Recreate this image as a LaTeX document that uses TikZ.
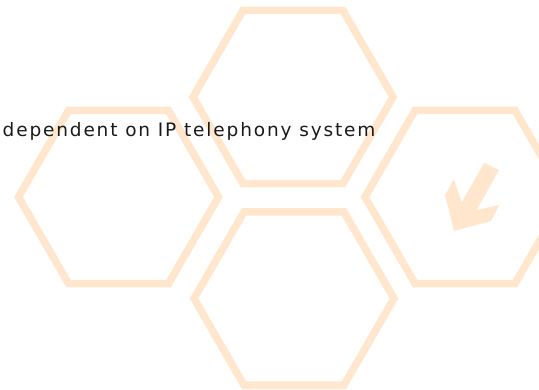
\documentclass[tikz,border=0pt]{standalone}
\usepackage{fontspec}
\setmainfont{DejaVu Sans}
\definecolor{hexcol}{RGB}{255,230,205}
\definecolor{txtcol}{RGB}{26,26,26}
\tikzset{
  hexa/.style={draw=hexcol, line width=7.5pt, miter limit=10},
  arrowshape/.style={fill=hexcol, draw=none},
  label/.style={inner sep=0pt, anchor=base west, text=txtcol,
    font=\fontsize{18.5}{21}\selectfont\addfontfeatures{LetterSpace=10}}
}
\begin{document}
\begin{tikzpicture}[x=1pt,y=-1pt]
\useasboundingbox (0,0) rectangle (539,390);
% hexagon centres
\coordinate (htop) at (293,97);
\coordinate (hleft) at (118.5,197);
\coordinate (hright) at (465,197);
\coordinate (hbot) at (294,298.5);
\foreach \c in {htop,hleft,hright,hbot}{
  \draw[hexa] (\c) +(0:100) -- +(60:100) -- +(120:100) -- +(180:100) -- +(240:100) -- +(300:100) -- cycle;
}
% arrow in right hexagon
\fill[arrowshape] (484.3,162.7) -- (499,170) -- (476.7,210) -- (499.3,205) -- (491,221)
  -- (454,231) -- (445,195) -- (454,179.3) -- (461.7,202.3) -- cycle;
\node[label] (txt) at (2.5,137) {dependent on IP telephony system};
\end{tikzpicture}
\end{document}
